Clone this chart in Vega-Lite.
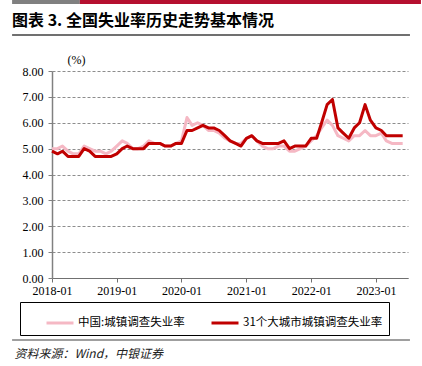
{
  "$schema": "https://vega.github.io/schema/vega-lite/v6.json",
  "width": 356,
  "height": 207,
  "autosize": {"type": "none"},
  "padding": {"left": 52, "top": 71, "right": 14, "bottom": 88},
  "background": "#ffffff",
  "config": {"view": {"stroke": null}, "font": "Noto Sans CJK SC"},
  "title": {
    "text": "图表 3. 全国失业率历史走势基本情况",
    "anchor": "start",
    "frame": "group",
    "dx": -40,
    "offset": -29,
    "font": "Noto Sans CJK SC",
    "fontSize": 16,
    "fontWeight": "bold",
    "color": "#000000"
  },
  "resolve": {"axis": {"x": "independent", "y": "independent"}},
  "datasets": {
    "rates": [
      {"date": "2018-01-01", "中国:城镇调查失业率": 5.0, "31个大城市城镇调查失业率": 4.9},
      {"date": "2018-02-01", "中国:城镇调查失业率": 5.0, "31个大城市城镇调查失业率": 4.8},
      {"date": "2018-03-01", "中国:城镇调查失业率": 5.1, "31个大城市城镇调查失业率": 4.9},
      {"date": "2018-04-01", "中国:城镇调查失业率": 4.9, "31个大城市城镇调查失业率": 4.7},
      {"date": "2018-05-01", "中国:城镇调查失业率": 4.8, "31个大城市城镇调查失业率": 4.7},
      {"date": "2018-06-01", "中国:城镇调查失业率": 4.8, "31个大城市城镇调查失业率": 4.7},
      {"date": "2018-07-01", "中国:城镇调查失业率": 5.1, "31个大城市城镇调查失业率": 5.0},
      {"date": "2018-08-01", "中国:城镇调查失业率": 5.0, "31个大城市城镇调查失业率": 4.9},
      {"date": "2018-09-01", "中国:城镇调查失业率": 4.9, "31个大城市城镇调查失业率": 4.7},
      {"date": "2018-10-01", "中国:城镇调查失业率": 4.9, "31个大城市城镇调查失业率": 4.7},
      {"date": "2018-11-01", "中国:城镇调查失业率": 4.8, "31个大城市城镇调查失业率": 4.7},
      {"date": "2018-12-01", "中国:城镇调查失业率": 4.9, "31个大城市城镇调查失业率": 4.7},
      {"date": "2019-01-01", "中国:城镇调查失业率": 5.1, "31个大城市城镇调查失业率": 4.8},
      {"date": "2019-02-01", "中国:城镇调查失业率": 5.3, "31个大城市城镇调查失业率": 5.0},
      {"date": "2019-03-01", "中国:城镇调查失业率": 5.2, "31个大城市城镇调查失业率": 5.1},
      {"date": "2019-04-01", "中国:城镇调查失业率": 5.0, "31个大城市城镇调查失业率": 5.0},
      {"date": "2019-05-01", "中国:城镇调查失业率": 5.0, "31个大城市城镇调查失业率": 5.0},
      {"date": "2019-06-01", "中国:城镇调查失业率": 5.1, "31个大城市城镇调查失业率": 5.0},
      {"date": "2019-07-01", "中国:城镇调查失业率": 5.3, "31个大城市城镇调查失业率": 5.2},
      {"date": "2019-08-01", "中国:城镇调查失业率": 5.2, "31个大城市城镇调查失业率": 5.2},
      {"date": "2019-09-01", "中国:城镇调查失业率": 5.2, "31个大城市城镇调查失业率": 5.2},
      {"date": "2019-10-01", "中国:城镇调查失业率": 5.1, "31个大城市城镇调查失业率": 5.1},
      {"date": "2019-11-01", "中国:城镇调查失业率": 5.1, "31个大城市城镇调查失业率": 5.1},
      {"date": "2019-12-01", "中国:城镇调查失业率": 5.2, "31个大城市城镇调查失业率": 5.2},
      {"date": "2020-01-01", "中国:城镇调查失业率": 5.3, "31个大城市城镇调查失业率": 5.2},
      {"date": "2020-02-01", "中国:城镇调查失业率": 6.2, "31个大城市城镇调查失业率": 5.7},
      {"date": "2020-03-01", "中国:城镇调查失业率": 5.9, "31个大城市城镇调查失业率": 5.7},
      {"date": "2020-04-01", "中国:城镇调查失业率": 6.0, "31个大城市城镇调查失业率": 5.8},
      {"date": "2020-05-01", "中国:城镇调查失业率": 5.9, "31个大城市城镇调查失业率": 5.9},
      {"date": "2020-06-01", "中国:城镇调查失业率": 5.7, "31个大城市城镇调查失业率": 5.8},
      {"date": "2020-07-01", "中国:城镇调查失业率": 5.7, "31个大城市城镇调查失业率": 5.8},
      {"date": "2020-08-01", "中国:城镇调查失业率": 5.6, "31个大城市城镇调查失业率": 5.7},
      {"date": "2020-09-01", "中国:城镇调查失业率": 5.4, "31个大城市城镇调查失业率": 5.5},
      {"date": "2020-10-01", "中国:城镇调查失业率": 5.3, "31个大城市城镇调查失业率": 5.3},
      {"date": "2020-11-01", "中国:城镇调查失业率": 5.2, "31个大城市城镇调查失业率": 5.2},
      {"date": "2020-12-01", "中国:城镇调查失业率": 5.2, "31个大城市城镇调查失业率": 5.1},
      {"date": "2021-01-01", "中国:城镇调查失业率": 5.4, "31个大城市城镇调查失业率": 5.4},
      {"date": "2021-02-01", "中国:城镇调查失业率": 5.5, "31个大城市城镇调查失业率": 5.5},
      {"date": "2021-03-01", "中国:城镇调查失业率": 5.3, "31个大城市城镇调查失业率": 5.3},
      {"date": "2021-04-01", "中国:城镇调查失业率": 5.1, "31个大城市城镇调查失业率": 5.2},
      {"date": "2021-05-01", "中国:城镇调查失业率": 5.0, "31个大城市城镇调查失业率": 5.2},
      {"date": "2021-06-01", "中国:城镇调查失业率": 5.0, "31个大城市城镇调查失业率": 5.2},
      {"date": "2021-07-01", "中国:城镇调查失业率": 5.1, "31个大城市城镇调查失业率": 5.2},
      {"date": "2021-08-01", "中国:城镇调查失业率": 5.1, "31个大城市城镇调查失业率": 5.3},
      {"date": "2021-09-01", "中国:城镇调查失业率": 4.9, "31个大城市城镇调查失业率": 5.0},
      {"date": "2021-10-01", "中国:城镇调查失业率": 4.9, "31个大城市城镇调查失业率": 5.1},
      {"date": "2021-11-01", "中国:城镇调查失业率": 5.0, "31个大城市城镇调查失业率": 5.1},
      {"date": "2021-12-01", "中国:城镇调查失业率": 5.1, "31个大城市城镇调查失业率": 5.1},
      {"date": "2022-01-01", "中国:城镇调查失业率": 5.3, "31个大城市城镇调查失业率": 5.4},
      {"date": "2022-02-01", "中国:城镇调查失业率": 5.5, "31个大城市城镇调查失业率": 5.4},
      {"date": "2022-03-01", "中国:城镇调查失业率": 5.8, "31个大城市城镇调查失业率": 6.0},
      {"date": "2022-04-01", "中国:城镇调查失业率": 6.1, "31个大城市城镇调查失业率": 6.7},
      {"date": "2022-05-01", "中国:城镇调查失业率": 5.9, "31个大城市城镇调查失业率": 6.9},
      {"date": "2022-06-01", "中国:城镇调查失业率": 5.5, "31个大城市城镇调查失业率": 5.8},
      {"date": "2022-07-01", "中国:城镇调查失业率": 5.4, "31个大城市城镇调查失业率": 5.6},
      {"date": "2022-08-01", "中国:城镇调查失业率": 5.3, "31个大城市城镇调查失业率": 5.4},
      {"date": "2022-09-01", "中国:城镇调查失业率": 5.5, "31个大城市城镇调查失业率": 5.8},
      {"date": "2022-10-01", "中国:城镇调查失业率": 5.5, "31个大城市城镇调查失业率": 6.0},
      {"date": "2022-11-01", "中国:城镇调查失业率": 5.7, "31个大城市城镇调查失业率": 6.7},
      {"date": "2022-12-01", "中国:城镇调查失业率": 5.5, "31个大城市城镇调查失业率": 6.1},
      {"date": "2023-01-01", "中国:城镇调查失业率": 5.5, "31个大城市城镇调查失业率": 5.8},
      {"date": "2023-02-01", "中国:城镇调查失业率": 5.6, "31个大城市城镇调查失业率": 5.7},
      {"date": "2023-03-01", "中国:城镇调查失业率": 5.3, "31个大城市城镇调查失业率": 5.5},
      {"date": "2023-04-01", "中国:城镇调查失业率": 5.2, "31个大城市城镇调查失业率": 5.5},
      {"date": "2023-05-01", "中国:城镇调查失业率": 5.2, "31个大城市城镇调查失业率": 5.5},
      {"date": "2023-06-01", "中国:城镇调查失业率": 5.2, "31个大城市城镇调查失业率": 5.5}
    ]
  },
  "layer": [
    {
      "data": {"values": [{}]},
      "mark": {"type": "rule", "color": "#808080", "strokeWidth": 4, "clip": false},
      "encoding": {
        "x": {"datum": {"year": 2017, "month": 5, "date": 21, "utc": true}, "type": "temporal", "axis": null},
        "x2": {"datum": {"year": 2018, "month": 6, "date": 7, "utc": true}},
        "y": {"datum": 10.667, "type": "quantitative", "axis": null}
      }
    },
    {
      "data": {"values": [{}]},
      "mark": {"type": "rule", "color": "#B5102F", "strokeWidth": 4, "clip": false},
      "encoding": {
        "x": {"datum": {"year": 2018, "month": 6, "date": 7, "utc": true}, "type": "temporal", "axis": null},
        "x2": {"datum": {"year": 2023, "month": 9, "date": 12, "utc": true}},
        "y": {"datum": 10.667, "type": "quantitative", "axis": null}
      }
    },
    {
      "data": {"values": [{}]},
      "mark": {"type": "rule", "color": "#404040", "strokeWidth": 1.5, "clip": false},
      "encoding": {
        "x": {"datum": {"year": 2017, "month": 5, "date": 21, "utc": true}, "type": "temporal", "axis": null},
        "x2": {"datum": {"year": 2023, "month": 7, "date": 12, "utc": true}},
        "y": {"datum": 9.39, "type": "quantitative", "axis": null}
      }
    },
    {
      "data": {"values": [{}]},
      "mark": {"type": "rule", "color": "#404040", "strokeWidth": 1.2, "clip": false},
      "encoding": {
        "x": {"datum": {"year": 2017, "month": 5, "date": 21, "utc": true}, "type": "temporal", "axis": null},
        "x2": {"datum": {"year": 2023, "month": 7, "date": 12, "utc": true}},
        "y": {"datum": -2.396, "type": "quantitative", "axis": null}
      }
    },
    {
      "data": {"name": "rates"},
      "transform": [
        {"fold": ["中国:城镇调查失业率", "31个大城市城镇调查失业率"], "as": ["series", "rate"]}
      ],
      "mark": {"type": "line", "strokeWidth": 3, "strokeJoin": "round"},
      "encoding": {
        "x": {
          "field": "date",
          "type": "temporal",
          "scale": {
            "type": "utc",
            "domain": [
              {"year": 2018, "month": 1, "date": 1, "utc": true},
              {"year": 2023, "month": 7, "date": 1, "utc": true}
            ]
          },
          "axis": {
            "values": [
              {"year": 2018, "month": 1, "date": 1, "utc": true},
              {"year": 2019, "month": 1, "date": 1, "utc": true},
              {"year": 2020, "month": 1, "date": 1, "utc": true},
              {"year": 2021, "month": 1, "date": 1, "utc": true},
              {"year": 2022, "month": 1, "date": 1, "utc": true},
              {"year": 2023, "month": 1, "date": 1, "utc": true}
            ],
            "format": "%Y-%m",
            "grid": false,
            "domainColor": "#707070",
            "domainWidth": 1.2,
            "tickColor": "#707070",
            "tickSize": 4,
            "labelPadding": 3,
            "labelFont": "Liberation Serif",
            "labelFontSize": 12,
            "labelColor": "#000000",
            "labelFlush": false,
            "title": "资料来源：Wind，中银证券",
            "titleFont": "Noto Sans CJK SC",
            "titleFontSize": 12,
            "titleFontStyle": "italic",
            "titleFontWeight": "normal",
            "titleColor": "#222222",
            "titleAngle": 0,
            "titleAlign": "left",
            "titleBaseline": "middle",
            "titleX": -38,
            "titleY": 75
          }
        },
        "y": {
          "field": "rate",
          "type": "quantitative",
          "scale": {"domain": [0, 8], "nice": false},
          "axis": {
            "values": [0, 1, 2, 3, 4, 5, 6, 7, 8],
            "format": ".2f",
            "labelOverlap": false,
            "grid": true,
            "gridDash": [3, 2],
            "gridColor": "#707070",
            "gridWidth": 0.8,
            "domainColor": "#808080",
            "domainWidth": 1.5,
            "tickColor": "#808080",
            "tickSize": 4,
            "labelPadding": 5,
            "labelFont": "Liberation Serif",
            "labelFontSize": 12,
            "labelColor": "#000000",
            "title": "(%)",
            "titleFont": "Liberation Serif",
            "titleFontSize": 12,
            "titleFontWeight": "normal",
            "titleColor": "#000000",
            "titleAngle": 0,
            "titleAlign": "center",
            "titleBaseline": "middle",
            "titleX": 24,
            "titleY": -12
          }
        },
        "color": {
          "field": "series",
          "type": "nominal",
          "scale": {
            "domain": ["中国:城镇调查失业率", "31个大城市城镇调查失业率"],
            "range": ["#F5B8C4", "#C00000"]
          },
          "legend": {
            "orient": "none",
            "legendX": -32,
            "legendY": 231,
            "direction": "horizontal",
            "title": " ",
            "titleOrient": "left",
            "titleFontSize": 4,
            "titlePadding": 19,
            "symbolType": "stroke",
            "symbolSize": 729,
            "symbolStrokeWidth": 3,
            "labelFont": "Noto Sans CJK SC",
            "labelFontSize": 11.5,
            "labelColor": "#000000",
            "labelOffset": 3,
            "labelLimit": 400,
            "columnPadding": 20,
            "padding": 6,
            "strokeColor": "#000000",
            "labelExpr": "datum.label == '31个大城市城镇调查失业率' ? datum.label + '    ' : datum.label"
          }
        }
      }
    }
  ]
}
